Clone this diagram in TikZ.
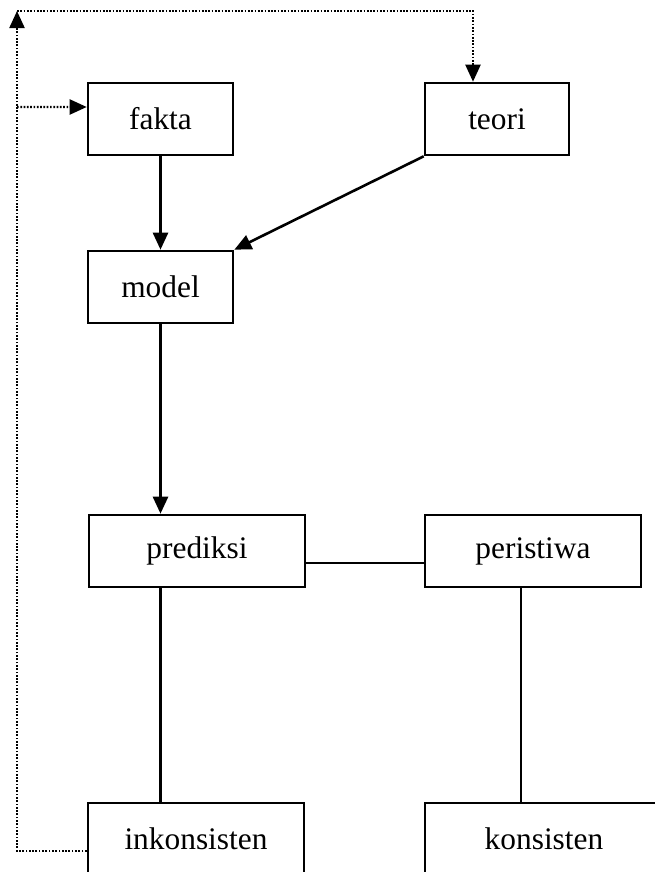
\documentclass[tikz,border=0pt]{standalone}
\usepackage{fontspec}
\setmainfont{Liberation Serif}
\usetikzlibrary{arrows.meta}
\begin{document}
\begin{tikzpicture}[x=1bp,y=-1bp,
  box/.style={draw,line width=2.6bp,rectangle,inner sep=0pt,minimum height=72bp,
    font=\fontsize{31.5}{36}\selectfont},
  conn/.style={line width=2.6bp},
  arr/.style={conn,-{Triangle[length=17bp,width=15bp]}},
  dots/.style={line width=2.2bp,dash pattern=on 1.7bp off 1.6bp},
  darr/.style={dots,-{Triangle[length=17bp,width=15bp]}}]
\useasboundingbox (0,0) rectangle (655,872);
\clip (0,0) rectangle (655,872);
\node[box,minimum width=145bp] (fakta) at (160.5,119) {fakta};
\node[box,minimum width=144bp] (teori) at (497,119) {teori};
\node[box,minimum width=145bp] (model) at (160.5,287) {model};
\node[box,minimum width=216bp] (prediksi) at (197,551) {prediksi};
\node[box,minimum width=216bp] (peristiwa) at (533,551) {peristiwa};
\node[box,minimum width=216bp] (inkonsisten) at (196,839) {inkonsisten};
\node[box,minimum width=238bp] (konsisten) at (544,839) {konsisten};
\coordinate (tl) at (17,11);
\draw[arr] (fakta.south) -- (model.north);
\draw[arr] (teori.south west) -- (model.north east);
\draw[arr] (model.south) -- (model.south |- prediksi.north);
\draw[conn] (model.south |- prediksi.south) -- (model.south |- inkonsisten.north);
\draw[conn] ([yshift=-12bp]prediksi.east) -- ([yshift=-12bp]peristiwa.west);
\draw[conn] ([xshift=-12bp]peristiwa.south) -- ([xshift=-12bp]peristiwa.south |- konsisten.north);
\draw[darr] ([yshift=-12bp]inkonsisten.west) -| (tl);
\draw[darr] (tl) -| ([xshift=-24bp]teori.north);
\draw[darr] (tl |- fakta.west) ++(0,-12) -- ([yshift=12bp]fakta.west);
\end{tikzpicture}
\end{document}
